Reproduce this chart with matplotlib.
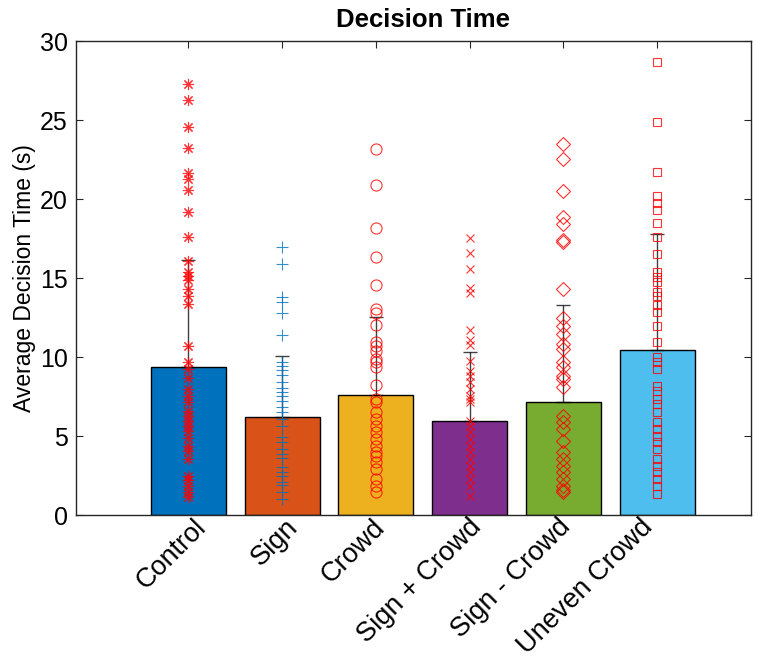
import numpy as np
import matplotlib
matplotlib.use('Agg')
import matplotlib.pyplot as plt
import matplotlib.transforms as mtransforms

plt.rcParams['font.family'] = ['Liberation Sans', 'DejaVu Sans']

# datos
grupos = ['Control', 'Sign', 'Crowd', 'Sign + Crowd', 'Sign - Crowd', 'Uneven Crowd']
medias = [9.4, 6.18, 7.6, 5.93, 7.17, 10.44]
err_sup = [16.15, 10.1, 12.57, 10.3, 13.3, 17.78]

control = [27.28, 26.3, 24.6, 23.27, 21.65, 21.3, 20.6, 19.2, 17.6, 16.1, 15.4, 15.15,
           14.9, 14.3, 13.9, 13.35, 10.7, 9.7, 9.24, 8.7, 7.97, 7.55, 7.13, 6.6, 6.28,
           5.97, 5.65, 5.3, 4.9, 4.4, 4.07, 3.54, 2.49, 2.2, 1.85, 1.43, 1.12]
sign = [17.0, 15.9, 13.8, 13.5, 12.8, 11.4, 9.66, 9.45, 9.18, 8.88, 8.44, 8.02, 7.77,
        7.55, 7.23, 6.82, 6.5, 6.08, 5.65, 4.92, 4.6, 4.18, 3.86, 3.59, 3.02, 2.7, 2.49,
        2.11, 1.9, 1.43, 1.01]
crowd = [23.16, 20.9, 18.18, 16.37, 14.56, 13.04, 12.8, 12.03, 10.93, 10.72, 10.4, 9.87,
         9.66, 9.35, 8.23, 7.34, 7.13, 6.5, 6.08, 5.65, 5.23, 4.81, 4.39, 3.97, 3.75,
         3.33, 2.91, 2.28, 1.85, 1.43]
sign_crowd = [17.53, 16.6, 15.6, 14.4, 14.08, 11.7, 11.1, 10.76, 9.77, 9.13, 8.82, 8.4,
              7.97, 7.55, 7.34, 7.13, 5.97, 5.65, 5.23, 4.81, 4.39, 3.97, 3.54, 3.12,
              2.7, 2.28, 1.85, 1.22]
sign_minus = [23.48, 22.57, 20.5, 18.9, 18.4, 17.4, 17.3, 14.3, 12.5, 11.98, 11.46, 10.82,
              10.5, 9.66, 9.35, 8.82, 8.6, 8.08, 6.28, 5.86, 5.44, 4.7, 3.97, 3.54, 3.12,
              2.7, 2.28, 1.85, 1.6, 1.43]
uneven = [28.7, 24.9, 21.7, 20.2, 19.75, 19.3, 18.5, 17.6, 16.5, 15.36, 15.05, 14.73, 14.1,
          13.9, 13.3, 12.83, 11.98, 10.93, 9.98, 9.66, 9.24, 8.18, 7.86, 7.34, 7.03, 6.5,
          5.9, 5.44, 5.02, 4.6, 4.18, 3.54, 3.12, 2.7, 2.28, 1.85, 1.33]
puntos = [control, sign, crowd, sign_crowd, sign_minus, uneven]

colores = ['#0072BD', '#D95319', '#EDB120', '#7E2F8E', '#77AC30', '#4DBEEE']
marcadores = [(8, 2, 0), '+', 'o', 'x', 'D', 's']
color_pts = ['red', '#0072BD', 'red', 'red', 'red', 'red']
tam = [8, 9, 8, 6, 7, 6]
dx_etiq = [14, 12, 5, 8, 3, -8]  # ajuste fino en px de cada etiqueta

fig = plt.figure(figsize=(7.6, 6.58), dpi=100)
ax = fig.add_axes([0.1, 0.2173, 0.888, 0.72])

x = np.arange(1, 7)
ax.bar(x, medias, width=0.8, color=colores, edgecolor='black', linewidth=1, zorder=2)
for i in range(6):
    ax.errorbar(x[i], medias[i], yerr=[[0], [err_sup[i] - medias[i]]], color='black',
                linewidth=1, capsize=5, capthick=1, alpha=0.75, zorder=3)
    ax.plot(np.full(len(puntos[i]), x[i]), puntos[i], linestyle='none',
            marker=marcadores[i], markersize=tam[i], markerfacecolor='none',
            markeredgecolor=color_pts[i], markeredgewidth=0.8, alpha=0.8, zorder=4)

ax.set_xlim(-0.2, 7)
ax.set_ylim(0, 30)
ax.set_yticks(np.arange(0, 31, 5))
ax.set_xticks(x)
ax.tick_params(direction='in', length=5, width=0.8, top=True, right=True,
               colors='#262626', pad=6)
ax.tick_params(axis='y', labelsize=18, pad=6)
ax.set_xticklabels(grupos, rotation=45, ha='right', va='center', rotation_mode='anchor',
                   fontsize=19.5)
# mover etiquetas (despues de tick_params)
for l, d in zip(ax.get_xticklabels(), dx_etiq):
    desp = mtransforms.ScaledTranslation(d / 100, 0, fig.dpi_scale_trans)
    l.set_transform(l.get_transform() + desp)
for l in ax.get_xticklabels() + ax.get_yticklabels():
    l.set_color('black')
for s in ax.spines.values():
    s.set_color('#262626')
    s.set_linewidth(1)
ax.set_ylabel('Average Decision Time (s)', fontsize=16.5, labelpad=3)
fig.text(423 / 760, 1 - 27 / 658, 'Decision Time', fontsize=18.5, fontweight='bold',
         ha='center', va='baseline')

fig.savefig('out.png', dpi=100)
